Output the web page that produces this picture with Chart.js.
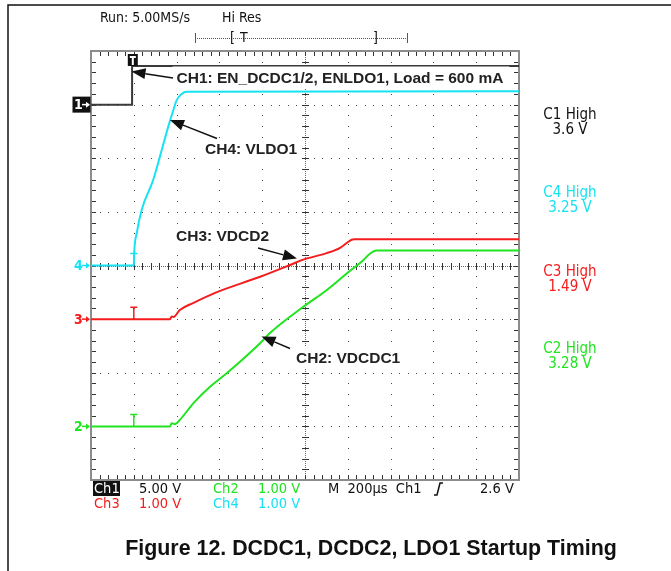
<!DOCTYPE html>
<html>
<head>
<meta charset="utf-8">
<script src="https://cdn.jsdelivr.net/npm/chart.js@4.4.1/dist/chart.umd.min.js"></script>
<style>
  html, body { margin: 0; padding: 0; background: #fff; }
  #wrap { position: relative; width: 671px; height: 571px; }
</style>
</head>
<body>
<div id="wrap"><canvas id="scope" width="671" height="571"></canvas></div>
<script>
// ================= DATA (time in µs, values in volts) =================
const channelNames = ["Ch1", "Ch2", "Ch3", "Ch4"];
const voltsPerDiv = [5, 1, 1, 1];
const offsetDiv = [3, -3, -1, 0];
const traceColors = ["#3a3a3a", "#1fe41f", "#f41c1c", "#17e2f2"];

const ch1Time = [-200, -8, -8, 1800];
const ch1Volts = [0, 0, 3.6, 3.6];

const ch2Time = [-200, 169, 177, 193, 215, 278, 356, 434, 590, 636, 792, 901, 995, 1072, 1103, 1134, 1800];
const ch2Volts = [0, 0, 0.06, 0.04, 0.12, 0.43, 0.74, 0.99, 1.55, 1.74, 2.23, 2.54, 2.85, 3.10, 3.22, 3.28, 3.28];

const ch3Time = [-200, 169, 177, 185, 215, 277, 380, 590, 730, 792, 901, 964, 995, 1018, 1030, 1800];
const ch3Volts = [0, 0, 0.05, 0.04, 0.17, 0.30, 0.49, 0.79, 1.01, 1.11, 1.23, 1.33, 1.42, 1.48, 1.49, 1.49];

const ch4Time = [-200, 0, 2, 14, 37, 91, 122, 161, 185, 200, 224, 247, 1800];
const ch4Volts = [0, 0, 0.25, 0.61, 1.04, 1.60, 2.03, 2.59, 2.90, 3.08, 3.20, 3.24, 3.25];

const timeRange = [-200, 1800];   // 200 µs/div, 10 divisions
const divRange = [-4, 4];         // 8 vertical divisions

const highLabels = ["C1 High", "C4 High", "C3 High", "C2 High"];
const highValues = ["3.6 V", "3.25 V", "1.49 V", "3.28 V"];

// ================= HELPERS =================
function toPoints(times, volts, ch) {
  return times.map((t, i) => ({ x: t, y: offsetDiv[ch] + volts[i] / voltsPerDiv[ch] }));
}

const SCOPE_FONT = '"DejaVu Sans Condensed", "DejaVu Sans", sans-serif';
const LABEL_FONT = '"Liberation Sans", Arial, sans-serif';

function arrow(ctx, x1, y1, x2, y2) {
  const ang = Math.atan2(y2 - y1, x2 - x1);
  const len = 14, half = 5.5;
  const bx = x2 - len * Math.cos(ang), by = y2 - len * Math.sin(ang);
  ctx.strokeStyle = "#111";
  ctx.fillStyle = "#111";
  ctx.lineWidth = 1.5;
  ctx.beginPath();
  ctx.moveTo(x1, y1);
  ctx.lineTo(bx, by);
  ctx.stroke();
  ctx.beginPath();
  ctx.moveTo(x2, y2);
  ctx.lineTo(bx + half * Math.sin(ang), by - half * Math.cos(ang));
  ctx.lineTo(bx - half * Math.sin(ang), by + half * Math.cos(ang));
  ctx.closePath();
  ctx.fill();
}

function boxedLabel(ctx, text, x, yMid, padL, padR) {
  ctx.font = "bold 15.5px " + LABEL_FONT;
  const w = ctx.measureText(text).width;
  ctx.fillStyle = "#fff";
  ctx.fillRect(x - padL, yMid - 11, w + padL + padR, 22);
  ctx.fillStyle = "#222";
  ctx.textBaseline = "middle";
  ctx.textAlign = "left";
  ctx.fillText(text, x, yMid + 1);
}

function groundMarker(ctx, txt, y, col) {
  ctx.fillStyle = col;
  ctx.fillText(txt, 74, y + 1);
  ctx.strokeStyle = col;
  ctx.lineWidth = 1.5;
  ctx.beginPath();
  ctx.moveTo(82, y); ctx.lineTo(89, y);
  ctx.stroke();
  ctx.beginPath();
  ctx.moveTo(90, y); ctx.lineTo(86, y - 3); ctx.lineTo(86, y + 3);
  ctx.closePath();
  ctx.fill();
}

// ================= GRID / GRATICULE =================
const graticule = {
  id: "graticule",
  beforeDatasetsDraw(chart) {
    const { ctx, scales } = chart;
    const xs = scales.x, ys = scales.y;
    const L = xs.getPixelForValue(timeRange[0]), R = xs.getPixelForValue(timeRange[1]);
    const T = ys.getPixelForValue(divRange[1]), B = ys.getPixelForValue(divRange[0]);
    const dx = (R - L) / 10, dy = (B - T) / 8;
    const cx = xs.getPixelForValue(800), cy = ys.getPixelForValue(0);
    ctx.save();
    ctx.fillStyle = "#4a4a4a";
    // dotted division lines
    for (let j = 1; j < 8; j++) {
      if (j === 4) continue;
      const y = Math.round(T + j * dy);
      for (let k = 0; k <= 50; k++) ctx.fillRect(Math.round(L + k * dx / 5), y, 1, 1);
    }
    for (let i = 1; i < 10; i++) {
      if (i === 5) continue;
      const x = Math.round(L + i * dx);
      for (let k = 0; k <= 40; k++) ctx.fillRect(x, Math.round(T + k * dy / 5), 1, 1);
    }
    // center axes: dense dots plus minor ticks
    ctx.fillStyle = "#666";
    for (let x = L; x <= R; x += 2) ctx.fillRect(Math.round(x), Math.round(cy), 1, 1);
    for (let y = T; y <= B; y += 2) ctx.fillRect(Math.round(cx), Math.round(y), 1, 1);
    ctx.fillStyle = "#333";
    for (let k = 1; k < 50; k++) ctx.fillRect(Math.round(L + k * dx / 5), Math.round(cy) - 3, 1, 7);
    for (let k = 1; k < 40; k++) ctx.fillRect(Math.round(cx) - 3, Math.round(T + k * dy / 5), 7, 1);
    // border ticks
    for (let k = 1; k < 50; k++) {
      const x = Math.round(L + k * dx / 5);
      ctx.fillRect(x, Math.round(T) + 1, 1, 4);
      ctx.fillRect(x, Math.round(B) - 5, 1, 4);
    }
    for (let k = 1; k < 40; k++) {
      const y = Math.round(T + k * dy / 5);
      ctx.fillRect(Math.round(L) + 1, y, 4, 1);
      ctx.fillRect(Math.round(R) - 5, y, 4, 1);
    }
    // border
    ctx.strokeStyle = "#8c8c8c";
    ctx.lineWidth = 2;
    ctx.strokeRect(L, T, R - L, B - T);
    ctx.restore();
  },
  afterDatasetsDraw(chart) {
    const { ctx, scales } = chart;
    const xs = scales.x, ys = scales.y;
    const x0 = xs.getPixelForValue(0);
    ctx.save();

    // trigger position I-beams on ch2, ch3, ch4
    [1, 2, 3].forEach(ch => {
      const yb = ys.getPixelForValue(offsetDiv[ch]);
      ctx.strokeStyle = traceColors[ch];
      ctx.lineWidth = 1.5;
      ctx.beginPath();
      ctx.moveTo(x0, yb); ctx.lineTo(x0, yb - 12);
      ctx.moveTo(x0 - 3.5, yb - 12); ctx.lineTo(x0 + 3.5, yb - 12);
      ctx.stroke();
    });

    // ch1 trigger marker at top
    ctx.fillStyle = "#111";
    ctx.fillRect(x0 - 6, 54, 10, 12);
    ctx.fillStyle = "#fff";
    ctx.fillRect(x0 - 4, 56, 6, 2);
    ctx.fillRect(x0 - 2, 56, 2, 9);

    // left channel ground markers
    ctx.font = "bold 14px " + SCOPE_FONT;
    ctx.textBaseline = "middle";
    ctx.textAlign = "left";
    const y1 = ys.getPixelForValue(offsetDiv[0]);
    ctx.fillStyle = "#111";
    ctx.fillRect(72.5, y1 - 8, 18, 16);
    groundMarker(ctx, "1", y1, "#fff");
    groundMarker(ctx, "4", ys.getPixelForValue(offsetDiv[3]), traceColors[3]);
    groundMarker(ctx, "3", ys.getPixelForValue(offsetDiv[2]), traceColors[2]);
    groundMarker(ctx, "2", ys.getPixelForValue(offsetDiv[1]), traceColors[1]);

    // annotations
    boxedLabel(ctx, "CH1: EN_DCDC1/2, ENLDO1, Load = 600 mA", 176.5, 77.5, 4, 6);
    arrow(ctx, 173, 78, 131.5, 71.5);
    boxedLabel(ctx, "CH4: VLDO1", 205, 149, 3, 3);
    arrow(ctx, 217, 138.5, 170, 120);
    boxedLabel(ctx, "CH3: VDCD2", 176, 236, 3, 3);
    arrow(ctx, 258, 248, 297, 258.5);
    boxedLabel(ctx, "CH2: VDCDC1", 296, 358, 6, 6);
    arrow(ctx, 290, 348.5, 261.5, 336.5);

    ctx.restore();
  },
  afterDraw(chart) {
    const { ctx } = chart;
    ctx.save();
    // page frame
    ctx.strokeStyle = "#111";
    ctx.lineWidth = 1.5;
    ctx.beginPath();
    ctx.moveTo(8, 571); ctx.lineTo(8, 5); ctx.lineTo(671, 5);
    ctx.stroke();

    ctx.textBaseline = "middle";
    ctx.textAlign = "left";
    ctx.font = "14px " + SCOPE_FONT;
    ctx.fillStyle = "#111";
    ctx.fillText("Run: 5.00MS/s", 100, 18);
    ctx.fillText("Hi Res", 222, 18);

    // record-window bracket
    ctx.fillStyle = "#555";
    for (let x = 195; x <= 407; x += 2) ctx.fillRect(x, 38, 1, 1);
    ctx.fillRect(195, 33, 1, 10);
    ctx.fillRect(407, 33, 1, 10);
    ctx.fillStyle = "#111";
    ctx.font = "14px " + SCOPE_FONT;
    ctx.fillText("[", 230, 38);
    ctx.fillText("T", 240, 38);
    ctx.fillText("]", 373, 38);

    // high measurements on the right
    ctx.textAlign = "center";
    ctx.font = "15px " + SCOPE_FONT;
    const highColors = ["#111", traceColors[3], traceColors[2], traceColors[1]];
    const highY = [115, 193, 272, 349];
    highLabels.forEach((lab, i) => {
      ctx.fillStyle = highColors[i];
      ctx.fillText(lab, 570, highY[i]);
      ctx.fillText(highValues[i], 570, highY[i] + 15);
    });

    // channel settings row
    ctx.textAlign = "left";
    ctx.font = "14.5px " + SCOPE_FONT;
    ctx.fillStyle = "#111";
    ctx.fillRect(93, 481, 27, 15);
    ctx.fillStyle = "#fff";
    ctx.fillText(channelNames[0], 94, 489);
    ctx.fillStyle = "#111";
    ctx.fillText(voltsPerDiv[0].toFixed(2) + " V", 139, 489);
    ctx.fillStyle = traceColors[1];
    ctx.fillText(channelNames[1], 213, 489);
    ctx.fillText(voltsPerDiv[1].toFixed(2) + " V", 258, 489);
    ctx.fillStyle = "#111";
    ctx.fillText("M  200µs  Ch1", 328, 489);
    ctx.fillText("2.6 V", 480, 489);
    ctx.lineWidth = 1.5;
    ctx.strokeStyle = "#111";
    ctx.beginPath();
    ctx.moveTo(434, 495); ctx.lineTo(437, 495);
    ctx.lineTo(440, 483); ctx.lineTo(443, 483);
    ctx.stroke();
    ctx.fillStyle = traceColors[2];
    ctx.fillText(channelNames[2], 94, 504);
    ctx.fillText(voltsPerDiv[2].toFixed(2) + " V", 139, 504);
    ctx.fillStyle = traceColors[3];
    ctx.fillText(channelNames[3], 213, 504);
    ctx.fillText(voltsPerDiv[3].toFixed(2) + " V", 258, 504);

    // caption
    ctx.textAlign = "center";
    ctx.fillStyle = "#111";
    ctx.font = "bold 21.4px " + LABEL_FONT;
    ctx.fillText("Figure 12. DCDC1, DCDC2, LDO1 Startup Timing", 371, 549);
    ctx.restore();
  }
};

// ================= CHART =================
function buildScope() {
  const series = [
    [ch1Time, ch1Volts, 0],
    [ch4Time, ch4Volts, 3],
    [ch3Time, ch3Volts, 2],
    [ch2Time, ch2Volts, 1]
  ];
  new Chart(document.getElementById("scope"), {
    type: "scatter",
    data: {
      datasets: series.map(([t, v, ch]) => ({
        label: channelNames[ch],
        data: toPoints(t, v, ch),
        showLine: true,
        borderColor: traceColors[ch],
        borderWidth: 2,
        pointRadius: 0,
        cubicInterpolationMode: ch === 0 ? "default" : "monotone",
        tension: 0,
        clip: false
      }))
    },
    options: {
      responsive: false,
      animation: false,
      devicePixelRatio: 1,
      layout: { padding: { left: 91, right: 152, top: 51, bottom: 91 } },
      plugins: { legend: { display: false }, tooltip: { enabled: false } },
      scales: {
        x: { type: "linear", min: timeRange[0], max: timeRange[1], display: false },
        y: { type: "linear", min: divRange[0], max: divRange[1], display: false }
      }
    },
    plugins: [graticule]
  });
}

window.onload = buildScope;
</script>
</body>
</html>
